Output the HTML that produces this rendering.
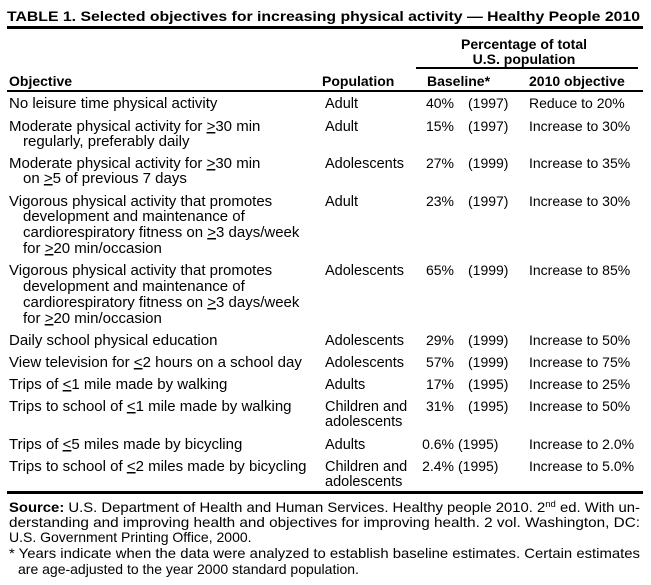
<!DOCTYPE html>
<html><head><meta charset="utf-8"><style>
html,body{margin:0;padding:0;background:#fff;width:651px;height:585px;overflow:hidden}
svg{display:block}
text{font-family:"Liberation Sans",Arial,sans-serif;font-size:14px;fill:#000}
.b{font-weight:bold}
.u{text-decoration:underline}
.o text{font-size:15px}
.p{font-size:14.5px}
</style></head><body>
<svg width="651" height="585" viewBox="0 0 651 585" xmlns="http://www.w3.org/2000/svg">
<text class="b" x="7" y="21" font-size="15.5" textLength="633" lengthAdjust="spacingAndGlyphs">TABLE 1. Selected objectives for increasing physical activity — Healthy People 2010</text>
<rect x="7" y="26" width="636" height="3"/>
<text class="b" x="524" y="49" text-anchor="middle">Percentage of total</text>
<text class="b" x="524" y="64" text-anchor="middle">U.S. population</text>
<rect x="416" y="67" width="222" height="2"/>
<text class="b" x="9" y="86">Objective</text>
<text class="b" x="322" y="86">Population</text>
<text class="b" x="427" y="86">Baseline*</text>
<text class="b" x="529" y="86">2010 objective</text>
<rect x="7" y="90" width="636" height="2"/>

<g class="o">
<text x="9" y="108">No leisure time physical activity</text>
<text x="9" y="131">Moderate physical activity for <tspan class="u">&gt;</tspan>30 min</text>
<text x="23" y="146">regularly, preferably daily</text>
<text x="9" y="168">Moderate physical activity for <tspan class="u">&gt;</tspan>30 min</text>
<text x="23" y="183">on <tspan class="u">&gt;</tspan>5 of previous 7 days</text>
<text x="9" y="206">Vigorous physical activity that promotes</text>
<text x="23" y="221">development and maintenance of</text>
<text x="23" y="237">cardiorespiratory fitness on <tspan class="u">&gt;</tspan>3 days/week</text>
<text x="23" y="253">for <tspan class="u">&gt;</tspan>20 min/occasion</text>
<text x="9" y="275">Vigorous physical activity that promotes</text>
<text x="23" y="291">development and maintenance of</text>
<text x="23" y="307">cardiorespiratory fitness on <tspan class="u">&gt;</tspan>3 days/week</text>
<text x="23" y="323">for <tspan class="u">&gt;</tspan>20 min/occasion</text>
<text x="9" y="345">Daily school physical education</text>
<text x="9" y="367">View television for <tspan class="u">&lt;</tspan>2 hours on a school day</text>
<text x="9" y="389">Trips of <tspan class="u">&lt;</tspan>1 mile made by walking</text>
<text x="9" y="411">Trips to school of <tspan class="u">&lt;</tspan>1 mile made by walking</text>
<text x="9" y="449">Trips of <tspan class="u">&lt;</tspan>5 miles made by bicycling</text>
<text x="9" y="471">Trips to school of <tspan class="u">&lt;</tspan>2 miles made by bicycling</text>
</g>

<g>
<text class="p" x="325" y="108">Adult</text><text x="454" y="108" text-anchor="end">40%</text><text x="468" y="108">(1997)</text><text x="529" y="108">Reduce to 20%</text>
<text class="p" x="325" y="131">Adult</text><text x="454" y="131" text-anchor="end">15%</text><text x="468" y="131">(1997)</text><text x="529" y="131">Increase to 30%</text>
<text class="p" x="325" y="168">Adolescents</text><text x="454" y="168" text-anchor="end">27%</text><text x="468" y="168">(1999)</text><text x="529" y="168">Increase to 35%</text>
<text class="p" x="325" y="206">Adult</text><text x="454" y="206" text-anchor="end">23%</text><text x="468" y="206">(1997)</text><text x="529" y="206">Increase to 30%</text>
<text class="p" x="325" y="275">Adolescents</text><text x="454" y="275" text-anchor="end">65%</text><text x="468" y="275">(1999)</text><text x="529" y="275">Increase to 85%</text>
<text class="p" x="325" y="345">Adolescents</text><text x="454" y="345" text-anchor="end">29%</text><text x="468" y="345">(1999)</text><text x="529" y="345">Increase to 50%</text>
<text class="p" x="325" y="367">Adolescents</text><text x="454" y="367" text-anchor="end">57%</text><text x="468" y="367">(1999)</text><text x="529" y="367">Increase to 75%</text>
<text class="p" x="325" y="389">Adults</text><text x="454" y="389" text-anchor="end">17%</text><text x="468" y="389">(1995)</text><text x="529" y="389">Increase to 25%</text>
<text class="p" x="325" y="411">Children and</text><text class="p" x="325" y="426">adolescents</text>
<text x="454" y="411" text-anchor="end">31%</text><text x="468" y="411">(1995)</text><text x="529" y="411">Increase to 50%</text>
<text class="p" x="325" y="449">Adults</text><text x="454" y="449" text-anchor="end">0.6%</text><text x="458" y="449">(1995)</text><text x="529" y="449">Increase to 2.0%</text>
<text class="p" x="325" y="471">Children and</text><text class="p" x="325" y="486">adolescents</text>
<text x="454" y="471" text-anchor="end">2.4%</text><text x="458" y="471">(1995)</text><text x="529" y="471">Increase to 5.0%</text>
</g>

<rect x="7" y="491" width="636" height="3"/>
<text x="9" y="512" textLength="631" lengthAdjust="spacingAndGlyphs"><tspan class="b">Source:</tspan> U.S. Department of Health and Human Services. Healthy people 2010. 2<tspan font-size="9" dy="-5">nd</tspan><tspan dy="5"> ed. With un-</tspan></text>
<text x="9" y="527" textLength="631" lengthAdjust="spacingAndGlyphs">derstanding and improving health and objectives for improving health. 2 vol. Washington, DC:</text>
<text x="9" y="542">U.S. Government Printing Office, 2000.</text>
<text x="9" y="558" textLength="631" lengthAdjust="spacingAndGlyphs">* Years indicate when the data were analyzed to establish baseline estimates. Certain estimates</text>
<text x="18" y="574" font-size="14.3">are age-adjusted to the year 2000 standard population.</text>
</svg>
</body></html>
